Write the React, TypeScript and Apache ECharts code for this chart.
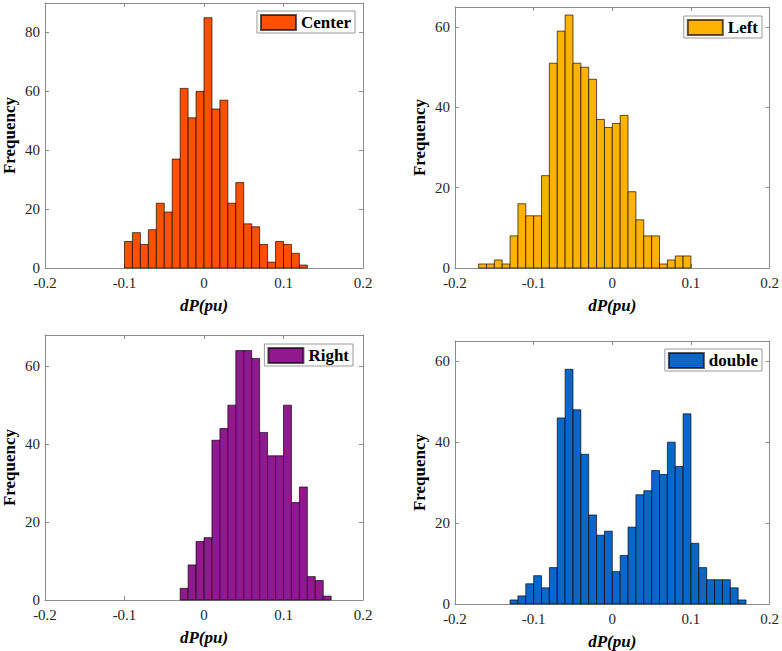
import React, { useEffect, useRef } from "react";
import * as echarts from "echarts";

// Histogram data: bins of width 0.01 starting at given left edge
const BIN_WIDTH = 0.01;
const centerStart = -0.1;
const centerCounts = [9, 12, 8, 13, 22, 19, 37, 61, 51, 60, 85, 54, 57, 22, 29, 15, 14, 8, 2, 9, 8, 5, 1];
const leftStart = -0.17;
const leftCounts = [1, 1, 2, 1, 8, 16, 13, 13, 23, 51, 59, 63, 51, 50, 47, 37, 35, 36, 38, 19, 12, 8, 8, 1, 2, 3, 3];
const rightStart = -0.03;
const rightCounts = [3, 9, 15, 16, 41, 44, 50, 64, 64, 62, 43, 37, 37, 50, 25, 29, 6, 5, 1];
const doubleStart = -0.13;
const doubleCounts = [1, 2, 5, 7, 4, 9, 46, 58, 48, 37, 22, 17, 18, 8, 12, 19, 27, 28, 33, 32, 40, 34, 47, 15, 9, 6, 6, 6, 4, 1];

const xTickLabels = ["-0.2", "-0.1", "0", "0.1", "0.2"];
const yMaxes = [90, 65, 68, 65];
const seriesNames = ["Center", "Left", "Right", "double"];
const colors = ["#FF5000", "#FFB300", "#8E1A8E", "#0A66C8"];

const FONT = "'Liberation Serif', 'Times New Roman', serif";

function toBins(start: number, counts: number[]) {
  return counts.map((c, i) => {
    const x0 = Math.round((start + i * BIN_WIDTH) * 1000) / 1000;
    const x1 = Math.round((start + (i + 1) * BIN_WIDTH) * 1000) / 1000;
    return [x0, x1, c];
  });
}

const binsList = [
  toBins(centerStart, centerCounts),
  toBins(leftStart, leftCounts),
  toBins(rightStart, rightCounts),
  toBins(doubleStart, doubleCounts),
];

// grid layout (pixels)
const grids = [
  { left: 44, top: 3, width: 319, height: 265 },
  { left: 455, top: 7, width: 315, height: 261 },
  { left: 44, top: 335, width: 319, height: 265 },
  { left: 455, top: 341, width: 316, height: 263 },
];
const legendPos = [
  { right: 427, top: 11 },
  { right: 20, top: 16 },
  { right: 429, top: 344 },
  { right: 20, top: 349 },
];

export default function App() {
  const ref = useRef<HTMLDivElement>(null);
  useEffect(() => {
    if (!ref.current) return;
    const chart = echarts.init(ref.current, undefined, { renderer: "svg" });
    const axisLine = { show: true, onZero: false, lineStyle: { color: "#8c8c8c", width: 1 } };
    const tick = { show: true, inside: true, length: 4, lineStyle: { color: "#8c8c8c" } };
    const xAxes: any[] = [];
    const yAxes: any[] = [];
    grids.forEach((g, i) => {
      const base = { type: "value", gridIndex: i, min: -0.2, max: 0.2, interval: 0.1 };
      xAxes.push({
        ...base,
        position: "bottom",
        axisLine,
        axisTick: tick,
        splitLine: { show: false },
        axisLabel: {
          margin: 7,
          fontFamily: FONT,
          fontSize: 15,
          color: "#262626",
          formatter: (v: number) => {
            const idx = Math.round((v + 0.2) / 0.1);
            return xTickLabels[idx] ?? "";
          },
        },
        name: "dP(pu)",
        nameLocation: "middle",
        nameGap: 29,
        nameTextStyle: { fontFamily: FONT, fontSize: 17, fontWeight: "bold", fontStyle: "italic", color: "#000" },
      });
      xAxes.push({
        ...base,
        position: "top",
        axisLine,
        axisTick: tick,
        splitLine: { show: false },
        axisLabel: { show: false },
      });
      const ybase = { type: "value", gridIndex: i, min: 0, max: yMaxes[i], interval: 20 };
      yAxes.push({
        ...ybase,
        position: "left",
        axisLine,
        axisTick: tick,
        splitLine: { show: false },
        axisLabel: {
          margin: 5,
          fontFamily: FONT,
          fontSize: 15,
          color: "#262626",
          showMaxLabel: false,
          formatter: (v: number) => (Math.abs(v % 20) < 1e-9 ? String(v) : ""),
        },
        name: "Frequency",
        nameLocation: "middle",
        nameGap: 27,
        nameTextStyle: { fontFamily: FONT, fontSize: 17, fontWeight: "bold", color: "#000" },
      });
      yAxes.push({
        ...ybase,
        position: "right",
        axisLine,
        axisTick: tick,
        splitLine: { show: false },
        axisLabel: { show: false },
      });
    });

    const series = binsList.map((bins, i) => ({
      type: "custom",
      name: seriesNames[i],
      xAxisIndex: 2 * i,
      yAxisIndex: 2 * i,
      data: bins,
      encode: { x: [0, 1], y: 2 },
      itemStyle: { color: colors[i], borderColor: "rgba(0,0,0,0.65)", borderWidth: 1 },
      renderItem: (params: any, api: any) => {
        const x0 = api.value(0);
        const x1 = api.value(1);
        const y = api.value(2);
        const p0 = api.coord([x0, y]);
        const p1 = api.coord([x1, 0]);
        return {
          type: "rect",
          shape: { x: p0[0], y: p0[1], width: p1[0] - p0[0], height: p1[1] - p0[1] },
          style: { fill: colors[i], stroke: "rgba(0,0,0,0.65)", lineWidth: 1 },
        };
      },
    }));

    const legends = seriesNames.map((n, i) => ({
      data: [n],
      ...legendPos[i],
      orient: "horizontal",
      icon: "rect",
      itemWidth: 35,
      itemHeight: 15,
      padding: [3, 4, 2, 3],
      backgroundColor: "#fff",
      borderColor: "#999",
      borderWidth: 1,
      borderRadius: 0,
      selectedMode: false,
      textStyle: { fontFamily: FONT, fontSize: 17, fontWeight: "bold", color: "#000", lineHeight: 17 },
    }));

    chart.setOption({
      animation: false,
      backgroundColor: "#fff",
      grid: grids.map((g) => ({ ...g, containLabel: false })),
      xAxis: xAxes,
      yAxis: yAxes,
      legend: legends,
      series,
    });
    return () => chart.dispose();
  }, []);
  return (
    <div
      ref={ref}
      style={{ position: "fixed", left: 0, top: 0, width: 782, height: 651, background: "#fff" }}
    />
  );
}
